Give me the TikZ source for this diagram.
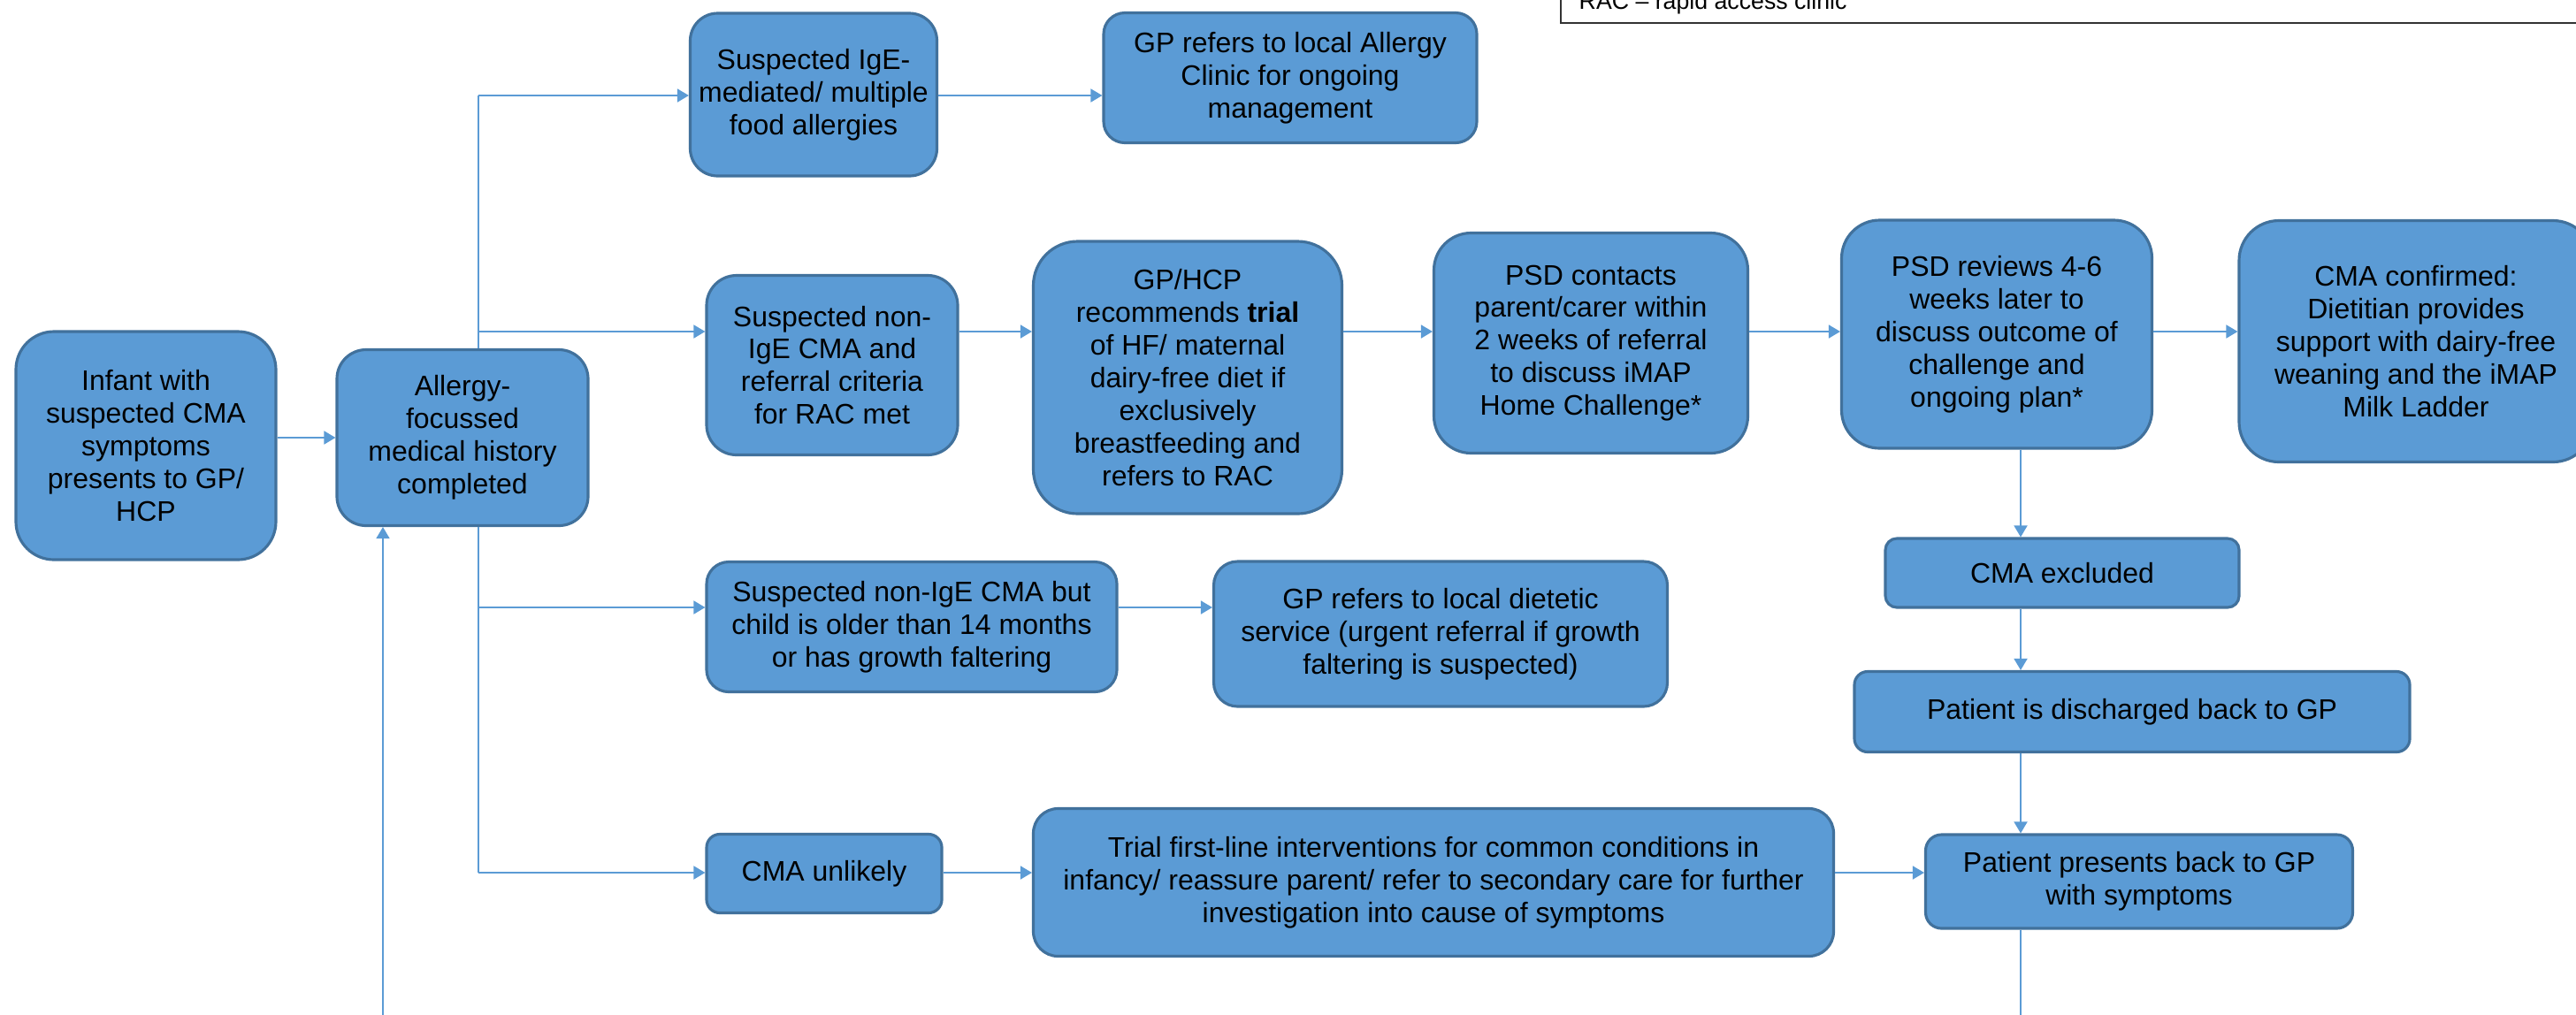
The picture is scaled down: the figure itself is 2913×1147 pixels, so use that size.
\documentclass[tikz,border=0pt]{standalone}
\usepackage{fontspec}
\setmainfont{Liberation Sans}
\usetikzlibrary{arrows.meta}
\definecolor{boxfill}{HTML}{5B9BD5}
\definecolor{boxedge}{HTML}{41719C}
\definecolor{linkcol}{HTML}{5B9BD5}
\tikzset{
  box/.style={draw=boxedge, fill=boxfill, line width=0.9pt, rounded corners=#1,
    align=center, inner sep=0pt, font=\fontsize{9.1}{10.5}\selectfont},
  box/.default=0.3cm,
  link/.style={draw=linkcol, line width=0.5pt},
  arr/.style={link, -{Triangle[length=0.13cm, width=0.15cm]}},
}
\begin{document}
\begin{tikzpicture}[x=0.1mm, y=-0.1mm]
\useasboundingbox (0,0) rectangle (2913,1147);
\clip (0,0) rectangle (2913,1147);

\draw[black!80, line width=0.6pt, fill=white] (1765,-60) rectangle (2960,26);
\node[anchor=base west, inner sep=0pt, font=\fontsize{7.6}{9}\selectfont] (racnote) at (1785,10) {RAC – rapid access clinic};

\node[box=0.43cm, minimum width=2.94cm, minimum height=2.58cm] (infant) at (165,504) {Infant with\\suspected CMA\\symptoms\\presents to GP/\\HCP};
\node[box=0.33cm, minimum width=2.84cm, minimum height=1.99cm] (history) at (523,495) {Allergy-\\focussed\\medical history\\completed};

\node[box=0.31cm, minimum width=2.79cm, minimum height=1.84cm] (ige) at (920,107) {Suspected IgE-\\mediated/ multiple\\food allergies};
\node[box=0.24cm, minimum width=4.22cm, minimum height=1.47cm] (clinic) at (1459,88) {GP refers to local Allergy\\Clinic for ongoing\\management};

\node[box=0.34cm, minimum width=2.84cm, minimum height=2.03cm] (nonige) at (941,413) {Suspected non-\\IgE CMA and\\referral criteria\\for RAC met};
\node[box=0.5cm, minimum width=3.49cm, minimum height=3.08cm] (gphcp) at (1343,427) {GP/HCP\\recommends \textbf{trial}\\of HF/ maternal\\dairy-free diet if\\exclusively\\breastfeeding and\\refers to RAC};
\node[box=0.42cm, minimum width=3.55cm, minimum height=2.49cm] (psdcontact) at (1799,388) {PSD contacts\\parent/carer within\\2 weeks of referral\\to discuss iMAP\\Home Challenge*};
\node[box=0.43cm, minimum width=3.51cm, minimum height=2.58cm] (psdreview) at (2258,378) {PSD reviews 4-6\\weeks later to\\discuss outcome of\\challenge and\\ongoing plan*};
\node[box=0.45cm, minimum width=4.0cm, minimum height=2.73cm] (confirmed) at (2732,386) {CMA confirmed:\\Dietitian provides\\support with dairy-free\\weaning and the iMAP\\Milk Ladder};

\node[box=0.25cm, minimum width=4.64cm, minimum height=1.47cm] (older) at (1031,709) {Suspected non-IgE CMA but\\child is older than 14 months\\or has growth faltering};
\node[box=0.27cm, minimum width=5.13cm, minimum height=1.64cm] (dietetic) at (1629,717) {GP refers to local dietetic\\service (urgent referral if growth\\faltering is suspected)};

\node[box=0.15cm, minimum width=2.66cm, minimum height=0.89cm] (unlikely) at (932,988) {CMA unlikely};
\node[box=0.28cm, minimum width=9.05cm, minimum height=1.67cm] (firstline) at (1621,998) {Trial first-line interventions for common conditions in\\infancy/ reassure parent/ refer to secondary care for further\\investigation into cause of symptoms};
\node[box=0.18cm, minimum width=4.83cm, minimum height=1.06cm] (presents) at (2419,997) {Patient presents back to GP\\with symptoms};

\node[box=0.13cm, minimum width=4.0cm, minimum height=0.78cm] (excluded) at (2332,648) {CMA excluded};
\node[box=0.15cm, minimum width=6.28cm, minimum height=0.91cm] (discharged) at (2411,805) {Patient is discharged back to GP};

\coordinate (t1) at (541,108);
\coordinate (t2) at (541,375);
\coordinate (t3) at (541,687);
\coordinate (t4) at (541,987);
\coordinate (col) at (2285,0);
\coordinate (loopin) at (433,1170);
\coordinate (loopout) at (2285,1170);

\draw[arr] (history.west -| infant.east) -- (history.west);
\draw[link] (history.north -| t1) -- (t1);
\draw[link] (history.south -| t1) -- (t4);
\draw[arr] (t1) -- (ige.west |- t1);
\draw[arr] (t2) -- (nonige.west |- t2);
\draw[arr] (t3) -- (older.west |- t3);
\draw[arr] (t4) -- (unlikely.west |- t4);

\draw[arr] (ige.east |- t1) -- (clinic.west |- t1);
\draw[arr] (nonige.east |- t2) -- (gphcp.west |- t2);
\draw[arr] (gphcp.east |- t2) -- (psdcontact.west |- t2);
\draw[arr] (psdcontact.east |- t2) -- (psdreview.west |- t2);
\draw[arr] (psdreview.east |- t2) -- (confirmed.west |- t2);
\draw[arr] (older.east |- t3) -- (dietetic.west |- t3);
\draw[arr] (unlikely.east |- t4) -- (firstline.west |- t4);
\draw[arr] (firstline.east |- t4) -- (presents.west |- t4);

\draw[arr] (psdreview.south -| col) -- (excluded.north -| col);
\draw[arr] (excluded.south -| col) -- (discharged.north -| col);
\draw[arr] (discharged.south -| col) -- (presents.north -| col);
\draw[link] (presents.south -| loopout) -- (loopout);
\draw[arr] (loopin) -- (loopin |- history.south);

\end{tikzpicture}
\end{document}
